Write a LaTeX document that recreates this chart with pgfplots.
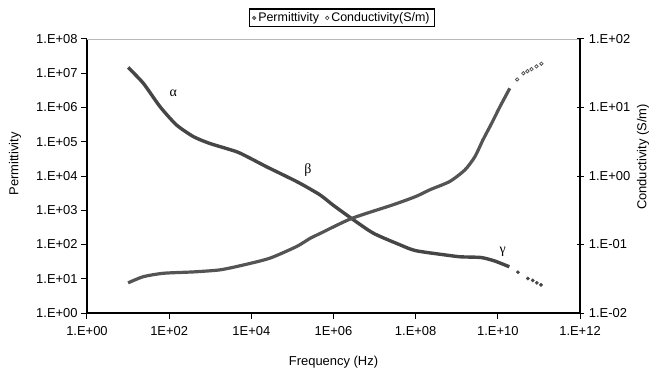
\documentclass[border=0pt]{standalone}
\usepackage{pgfplots}
\pgfplotsset{compat=1.18}
\usepackage{fontspec}
\setmainfont{Liberation Sans}
\newfontfamily\greekfont{Liberation Serif}
\definecolor{curve}{HTML}{464646}
\definecolor{curveb}{HTML}{545454}
\pgfplotstableread{
f eps
10 1.479e7
23.4 5.129e6
60.3 1.047e6
151 3.09e5
389 1.413e5
977 8.913e4
4365 5.129e4
9333 3.311e4
23440 1.862e4
60260 1.072e4
151400 6166
467700 2818
977200 1413
2.754e6 575.4
9.333e6 213.8
4.169e7 97.7
1e8 66.1
5.623e8 49.0
1.259e9 43.65
3.890e9 41.7
8.318e9 33.1
1.905e10 22.4
}\permA
\pgfplotstableread{
f eps
3.09e10 15.5
5.37e10 10.2
7.08e10 8.91
8.91e10 7.59
1.122e11 6.61
}\permB
\pgfplotstableread{
f sig
10 0.02754
23.4 0.03388
72.44 0.03802
389 0.03981
1738 0.04266
6310 0.05012
28180 0.0631
125900 0.0933
269200 0.1230
467700 0.1445
2.754e6 0.2399
2.818e7 0.3802
1e8 0.5012
2.239e8 0.631
6.761e8 0.8318
1.585e9 1.230
2.754e9 1.905
4.365e9 3.388
7.079e9 5.888
1.122e10 10.23
1.950e10 19.05
}\condA
\pgfplotstableread{
f sig
2.951e10 25.7
4.169e10 31.6
5.248e10 33.9
6.607e10 36.3
8.710e10 39.8
1.148e11 43.65
}\condB
\begin{document}
\fontsize{12.5}{15}\selectfont
\begin{tikzpicture}
\useasboundingbox (-87bp,-60bp) rectangle (570bp,313bp);
\begin{axis}[
  scale only axis, width=493bp, height=274bp,
  xmode=log, ymode=log, xmin=1, xmax=1e12, ymin=1, ymax=1e8,
  axis x line*=bottom, axis y line*=left,
  axis line style={line width=1.3bp, black, -},
  clip=false,
  xtick={1,100,1e4,1e6,1e8,1e10,1e12},
  xticklabels={1.E+00,1E+02,1E+04,1E+06,1.E+08,1.E+10,1.E+12},
  ytick={1,10,100,1000,1e4,1e5,1e6,1e7,1e8},
  yticklabels={1.E+00,1.E+01,1.E+02,1.E+03,1.E+04,1.E+05,1.E+06,1.E+07,1.E+08},
  minor tick length=0pt,
  major tick length=6bp, tick align=outside,
  tick style={black, line width=1bp},
  tick label style={font=\fontsize{13}{15}\selectfont},
  xticklabel style={yshift=-3bp},
  yticklabel style={xshift=1bp},
  xlabel={Frequency (Hz)},
  xlabel style={at={(axis description cs:0.5,-0.179)}, anchor=center, font=\fontsize{13}{15}\selectfont},
  ylabel={Permittivity},
  ylabel style={at={(axis description cs:-0.146,0.544)}, anchor=center, font=\fontsize{13}{15}\selectfont},
  legend style={at={(axis description cs:0.517,1.077)}, anchor=center, draw=black, line width=1.3bp,
    font=\fontsize{12.5}{15}\selectfont, inner xsep=3bp, inner ysep=1.5bp,
    /tikz/every even column/.append style={column sep=4bp}},
  legend columns=2,
]
\draw[gray!55, line width=0.8bp] (rel axis cs:0,1) -- (rel axis cs:1,1);
\addplot[curve, line width=3.4bp, smooth, tension=0.4, forget plot] table[x=f, y=eps] {\permA};
\addplot[curve, only marks, mark=*, mark size=1.7bp, forget plot] table[x=f, y=eps] {\permB};
\addlegendimage{legend image code/.code={\draw[fill=gray, draw=gray!50!black, line width=0.5bp] (0.1em,0) circle (1.8bp);}}
\addlegendentry{Permittivity}
\addlegendimage{legend image code/.code={\draw[fill=white, draw=gray!50!black, line width=0.6bp] (0.1em,0) circle (1.8bp);}}
\addlegendentry{Conductivity(S/m)}
\node[font=\greekfont\fontsize{14}{16}\selectfont] at (axis cs:126,2.63e6) {α};
\node[font=\greekfont\fontsize{14}{16}\selectfont] at (axis cs:2.4e5,1.5e4) {β};
\node[font=\greekfont\fontsize{14}{16}\selectfont] at (axis cs:1.32e10,60) {γ};
\end{axis}
\begin{axis}[
  scale only axis, width=493bp, height=274bp,
  xmode=log, ymode=log, xmin=1, xmax=1e12, ymin=0.01, ymax=100,
  axis x line=none, axis y line*=right,
  axis line style={line width=1.3bp, black, -},
  clip=false,
  ytick={0.01,0.1,1,10,100},
  yticklabels={1.E-02,1.E-01,1.E+00,1.E+01,1.E+02},
  minor tick length=0pt,
  major tick length=7bp, tick align=center,
  tick style={black, line width=1bp},
  tick label style={font=\fontsize{13}{15}\selectfont},
  yticklabel style={xshift=1bp},
  ylabel={Conductivity (S/m)},
  ylabel style={at={(axis description cs:1.128,0.569)}, anchor=center, font=\fontsize{13}{15}\selectfont},
]
\addplot[curveb, line width=3.2bp, smooth, tension=0.4] table[x=f, y=sig] {\condA};
\addplot[curveb, only marks, mark=o, mark size=1.7bp, line width=0.8bp] table[x=f, y=sig] {\condB};
\end{axis}
\end{tikzpicture}
\end{document}
